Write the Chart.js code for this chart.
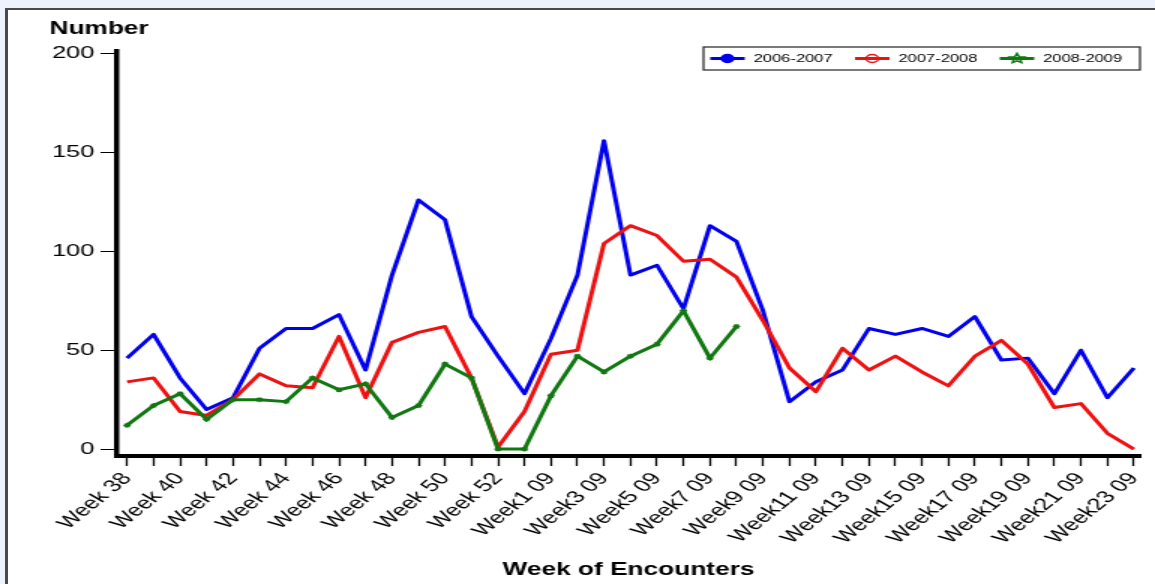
<!DOCTYPE html>
<html>
<head>
<meta charset="utf-8">
<title>Week of Encounters</title>
<script src="https://cdn.jsdelivr.net/npm/chart.js@4/dist/chart.umd.min.js"></script>
<style>
  html, body { margin: 0; padding: 0; background: #eef2fc; overflow: hidden; }
  #panel {
    position: absolute; left: 5px; top: 8px; width: 1300px; height: 700px;
    background: #fff; border-left: 3px solid #4a4a4a; border-top: 2px solid #4a4a4a;
  }
  /* the original picture is stretched sideways, so the chart is drawn narrow and widened */
  #stretch {
    position: absolute; left: 0; top: 0; width: 770px; height: 584px;
    transform: scaleX(1.5); transform-origin: 0 0;
  }
</style>
</head>
<body>
<div id="panel"></div>
<div id="stretch"><canvas id="weekChart"></canvas></div>
<script>
  "use strict";

  // categories (every other one is labelled on the axis)
  const weekLabels = [
    "Week 38", "Week 39", "Week 40", "Week 41", "Week 42", "Week 43", "Week 44",
    "Week 45", "Week 46", "Week 47", "Week 48", "Week 49", "Week 50", "Week 51",
    "Week 52", "Week 53", "Week1 09", "Week2 09", "Week3 09", "Week4 09", "Week5 09",
    "Week6 09", "Week7 09", "Week8 09", "Week9 09", "Week10 09", "Week11 09",
    "Week12 09", "Week13 09", "Week14 09", "Week15 09", "Week16 09", "Week17 09",
    "Week18 09", "Week19 09", "Week20 09", "Week21 09", "Week22 09", "Week23 09"
  ];

  const seasonNames = ["2006-2007", "2007-2008", "2008-2009"];

  const counts0607 = [46, 58, 36, 20, 26, 51, 61, 61, 68, 40, 88, 126, 116, 67, 47, 28, 56, 88, 156, 88,
    93, 71, 113, 105, 70, 24, 34, 40, 61, 58, 61, 57, 67, 45, 46, 28, 50, 26, 41];
  const counts0708 = [34, 36, 19, 17, 25, 38, 32, 31, 57, 26, 54, 59, 62, 36, 1, 19, 48, 50, 104, 113,
    108, 95, 96, 87, 65, 41, 29, 51, 40, 47, 39, 32, 47, 55, 43, 21, 23, 8, 0];
  const counts0809 = [12, 22, 28, 15, 25, 25, 24, 36, 30, 33, 16, 22, 43, 36, 0, 0, 27, 47, 39, 47,
    53, 70, 46, 62, null, null, null, null, null, null, null, null, null, null, null, null, null, null, null];

  const yTicks = [0, 50, 100, 150, 200];

  Chart.defaults.font.family = '"Liberation Sans", Arial, sans-serif';
  Chart.defaults.color = "#000";

  function toPoints(arr) {
    return arr.map((v, i) => ({ x: i, y: v }));
  }

  // outlined five point star for the legend
  function drawStar(ctx, cx, cy, outer, inner) {
    ctx.beginPath();
    for (let k = 0; k < 10; k++) {
      const r = k % 2 === 0 ? outer : inner;
      const a = -Math.PI / 2 + k * Math.PI / 5;
      const px = cx + r * Math.cos(a), py = cy + r * Math.sin(a);
      if (k === 0) ctx.moveTo(px, py); else ctx.lineTo(px, py);
    }
    ctx.closePath();
    ctx.stroke();
  }

  // legend in a framed box at the top right, line + marker for each series
  const boxedLegend = {
    id: "boxedLegend",
    afterDraw(chart) {
      const ctx = chart.ctx;
      const w = 291, h = 23;
      const left = chart.chartArea.right - w;
      const top = 47;
      const midY = top + h / 2;
      ctx.save();
      ctx.fillStyle = "#fff";
      ctx.fillRect(left, top, w, h);
      ctx.strokeStyle = "#333";
      ctx.lineWidth = 1.3;
      ctx.strokeRect(left, top, w, h);
      chart.data.datasets.forEach((ds, i) => {
        const x0 = left + 4.5 + i * 96.5;
        ctx.strokeStyle = ds.borderColor;
        ctx.lineWidth = 3;
        ctx.beginPath();
        ctx.moveTo(x0, midY);
        ctx.lineTo(x0 + 23, midY);
        ctx.stroke();
        ctx.lineWidth = 1.5;
        if (ds.pointStyle === "star") {
          drawStar(ctx, x0 + 11.5, midY, 5, 2.3);
        } else {
          ctx.fillStyle = ds.legendFill;
          Chart.helpers.drawPoint(ctx, {
            pointStyle: ds.pointStyle, radius: 4, rotation: 0, borderWidth: 1.5
          }, x0 + 11.5, midY);
        }
        ctx.fillStyle = "#000";
        ctx.font = '11px "Liberation Sans", Arial, sans-serif';
        ctx.textBaseline = "middle";
        ctx.textAlign = "left";
        ctx.fillText(ds.label, x0 + 29, midY + 0.5);
      });
      ctx.restore();
    }
  };

  const ctx = document.getElementById("weekChart").getContext("2d");
  const chart = new Chart(ctx, {
    type: "line",
    data: {
      datasets: [
        {
          label: seasonNames[0],
          data: toPoints(counts0607),
          borderColor: "#0000ee",
          backgroundColor: "#0000ee",
          legendFill: "#0000ee",
          borderWidth: 3,
          pointRadius: 0,
          pointStyle: "circle",
          borderJoinStyle: "round",
          order: 3
        },
        {
          label: seasonNames[1],
          data: toPoints(counts0708),
          borderColor: "#ee1111",
          backgroundColor: "#ee1111",
          legendFill: "rgba(255,255,255,0)",
          borderWidth: 3,
          pointRadius: 0,
          pointStyle: "circle",
          borderJoinStyle: "round",
          order: 2
        },
        {
          label: seasonNames[2],
          data: toPoints(counts0809),
          borderColor: "#117711",
          backgroundColor: "#117711",
          legendFill: "#117711",
          borderWidth: 3,
          pointRadius: 2.5,
          pointBorderWidth: 1.2,
          pointStyle: "star",
          borderJoinStyle: "round",
          order: 1
        }
      ]
    },
    options: {
      responsive: true,
      maintainAspectRatio: false,
      animation: false,
      layout: { padding: { left: 33, right: 10, top: 0, bottom: 0 } },
      plugins: {
        legend: { display: false },
        tooltip: { enabled: false },
        title: {
          display: true,
          text: "Number",
          align: "start",
          color: "#000",
          font: { size: 17.5, weight: "bold" },
          padding: { top: 19, bottom: 10.3 }
        }
      },
      scales: {
        x: {
          type: "linear",
          min: -0.38,
          max: 38.23,
          afterBuildTicks: (s) => { s.ticks = weekLabels.map((_, i) => ({ value: i })); },
          afterFit: (s) => {
            s.height = 128;
            s.paddingLeft = 0;
            s.paddingRight = 0;
          },
          border: { display: true, color: "#000", width: 4 },
          grid: { drawOnChartArea: false, drawTicks: true, tickLength: 10, tickColor: "#000", tickWidth: 1.3 },
          ticks: {
            autoSkip: false,
            minRotation: 50,
            maxRotation: 50,
            padding: 3,
            color: "#000",
            font: { size: 17 },
            callback: (v) => (v % 2 === 0 ? weekLabels[v] : "")
          },
          title: {
            display: true,
            text: "Week of Encounters",
            color: "#000",
            font: { size: 17.5, weight: "bold" },
            padding: { top: 4, bottom: 3 }
          }
        },
        y: {
          min: -3.5,
          max: 201.7,
          afterBuildTicks: (s) => { s.ticks = yTicks.map((v) => ({ value: v })); },
          afterFit: (s) => { s.width = 45; },
          border: { display: true, color: "#000", width: 3.5 },
          grid: { drawOnChartArea: false, drawTicks: true, tickLength: 11, tickColor: "#000", tickWidth: 1 },
          ticks: { color: "#000", font: { size: 17 }, padding: 4 }
        }
      }
    },
    plugins: [boxedLegend]
  });
</script>
</body>
</html>
